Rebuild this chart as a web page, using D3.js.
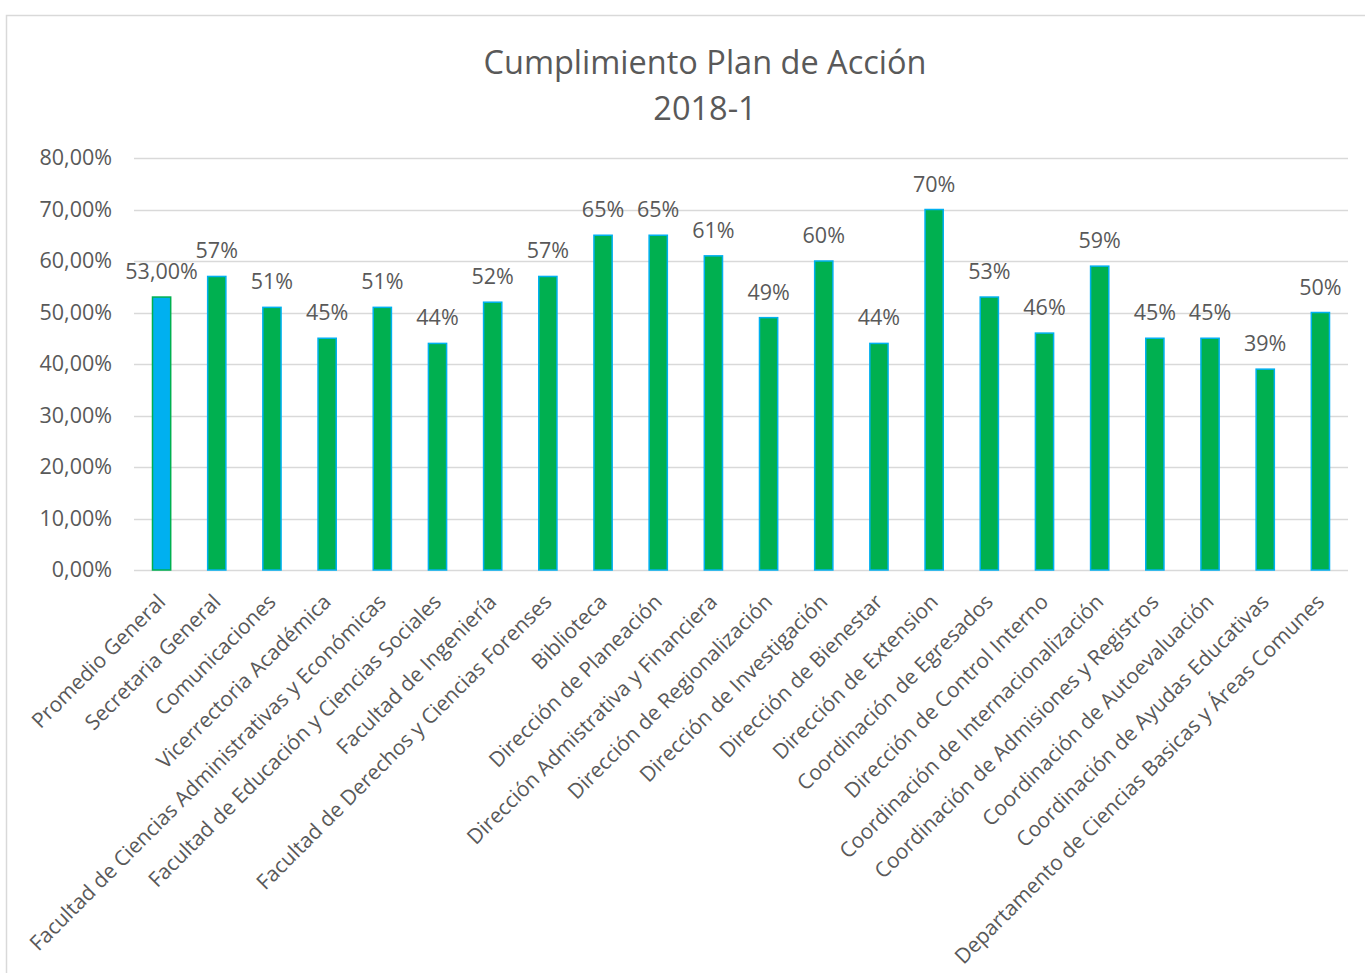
<!DOCTYPE html>
<html>
<head>
<meta charset="utf-8">
<script src="https://cdn.jsdelivr.net/npm/d3@7.9.0/dist/d3.min.js"></script>
<style>
  body { margin: 0; background: #fff; }
  svg { display: block; font-family: "Open Sans", sans-serif; }
</style>
</head>
<body>
<svg width="1365" height="973"></svg>
<script>
// Chart data
const categories = [
  'Promedio General', 'Secretaria General', 'Comunicaciones', 'Vicerrectoria Académica',
  'Facultad de Ciencias Administrativas y Económicas', 'Facultad de Educación y Ciencias Sociales',
  'Facultad de Ingeniería', 'Facultad de Derechos y Ciencias Forenses', 'Biblioteca',
  'Dirección de Planeación', 'Dirección Admistrativa y Financiera', 'Dirección de Regionalización',
  'Dirección de Investigación', 'Dirección de Bienestar', 'Dirección de Extension',
  'Coordinación de Egresados', 'Dirección de Control Interno', 'Coordinación de Internacionalización',
  'Coordinación de Admisiones y Registros', 'Coordinación de Autoevaluación',
  'Coordinación de Ayudas Educativas', 'Departamento de Ciencias Basicas y Áreas Comunes'
];
const values = [53, 57, 51, 45, 51, 44, 52, 57, 65, 65, 61, 49, 60, 44, 70, 53, 46, 59, 45, 45, 39, 50];
const valueLabels = ['53,00%', '57%', '51%', '45%', '51%', '44%', '52%', '57%', '65%', '65%', '61%',
  '49%', '60%', '44%', '70%', '53%', '46%', '59%', '45%', '45%', '39%', '50%'];
const yTicks = [0, 10, 20, 30, 40, 50, 60, 70, 80];
const titleLines = ['Cumplimiento Plan de Acción', '2018-1'];

const svg = d3.select('svg');
const textColor = '#595959';

// chart frame
svg.append('rect')
  .attr('x', 6.5).attr('y', 15.5)
  .attr('width', 1400).attr('height', 1000)
  .attr('fill', '#fff')
  .attr('stroke', '#d9d9d9')
  .attr('stroke-width', 1.5);

let x = d3.scaleBand()
  .domain(categories)
  .range([134, 1348])
  .paddingInner(0.67)
  .paddingOuter(0.335);

let y = d3.scaleLinear().domain([0, 80]).range([570, 158]);

// gridlines
svg.append('g')
  .selectAll('line')
  .data(yTicks)
  .join('line')
  .attr('x1', 134).attr('x2', 1348)
  .attr('y1', (d) => Math.round(y(d)) + 0.5)
  .attr('y2', (d) => Math.round(y(d)) + 0.5)
  .attr('stroke', '#d9d9d9')
  .attr('stroke-width', 1.3);

// y axis labels
let yAxis = d3.axisLeft(y)
  .tickValues(yTicks)
  .tickSize(0)
  .tickPadding(0)
  .tickFormat((d) => d3.format('.2f')(d).replace('.', ',') + '%');

svg.append('g')
  .attr('transform', 'translate(112,0)')
  .call(yAxis)
  .call((g) => g.select('.domain').remove())
  .selectAll('text')
  .attr('font-family', '"Open Sans", sans-serif')
  .attr('font-size', 21.5)
  .attr('fill', textColor);

// bars
svg.append('g')
  .selectAll('rect')
  .data(values)
  .join('rect')
  .attr('x', (d, i) => x(categories[i]))
  .attr('y', (d) => y(d))
  .attr('width', x.bandwidth())
  .attr('height', (d) => y(0) - y(d))
  .attr('fill', (d, i) => i === 0 ? '#00b0f0' : '#00b050')
  .attr('stroke', (d, i) => i === 0 ? '#00b050' : '#00b0f0')
  .attr('stroke-width', 1.5);

// value labels
svg.append('g')
  .selectAll('text')
  .data(values)
  .join('text')
  .attr('x', (d, i) => x(categories[i]) + x.bandwidth() / 2)
  .attr('y', (d) => y(d) - 18)
  .attr('text-anchor', 'middle')
  .attr('font-size', 21.5)
  .attr('fill', textColor)
  .text((d, i) => valueLabels[i]);

// category labels
svg.append('g')
  .selectAll('text')
  .data(categories)
  .join('text')
  .attr('transform', (d) => `translate(${x(d) + x.bandwidth() / 2 - 6},592) rotate(-45)`)
  .attr('dy', '0.75em')
  .attr('text-anchor', 'end')
  .attr('font-size', 21)
  .attr('fill', textColor)
  .text((d) => d);

// title
svg.append('g')
  .selectAll('text')
  .data(titleLines)
  .join('text')
  .attr('x', 705)
  .attr('y', (d, i) => 74 + i * 46)
  .attr('text-anchor', 'middle')
  .attr('font-size', 32.5)
  .attr('fill', textColor)
  .text((d) => d);
</script>
</body>
</html>
